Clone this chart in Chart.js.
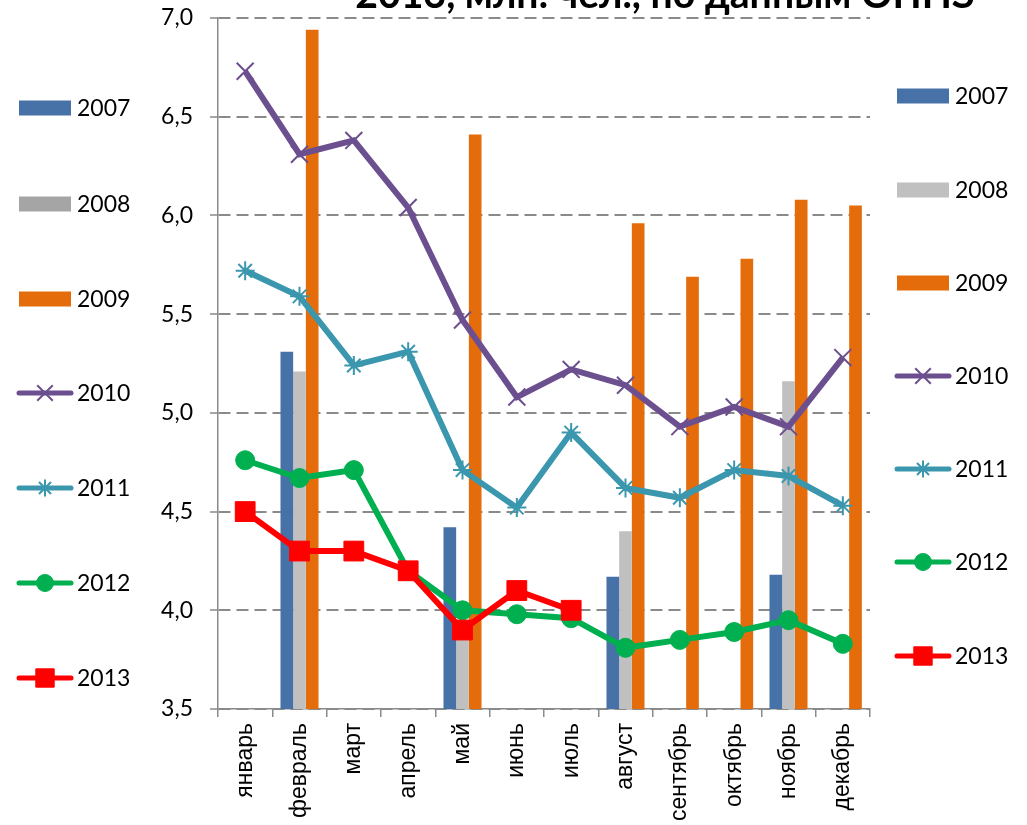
<!DOCTYPE html>
<html>
<head>
<meta charset="utf-8">
<script src="https://cdn.jsdelivr.net/npm/chart.js@4.4.1/dist/chart.umd.min.js"></script>
<style>
html,body{margin:0;padding:0;background:#fff;overflow:hidden}
canvas{display:block}
</style>
</head>
<body>
<canvas id="c" width="1027" height="825"></canvas>
<script>
const titleText = '2013, млн. чел., по данным ОПНЗ';
const months = ['январь','февраль','март','апрель','май','июнь','июль','август','сентябрь','октябрь','ноябрь','декабрь'];
const seriesNames = ['2007','2008','2009','2010','2011','2012','2013'];
const v2007 = [null,5.31,null,null,4.42,null,null,4.17,null,null,4.18,null];
const v2008 = [null,5.21,null,null,3.92,null,null,4.40,null,null,5.16,null];
const v2009 = [null,6.94,null,null,6.41,null,null,5.96,5.69,5.78,6.08,6.05];
const v2010 = [6.73,6.31,6.38,6.04,5.47,5.08,5.22,5.14,4.93,5.03,4.93,5.28];
const v2011 = [5.72,5.59,5.24,5.31,4.71,4.52,4.90,4.62,4.57,4.71,4.68,4.53];
const v2012 = [4.76,4.67,4.71,4.20,4.00,3.98,3.96,3.81,3.85,3.89,3.95,3.83];
const v2013 = [4.50,4.30,4.30,4.20,3.90,4.10,4.00,null,null,null,null,null];
const yMin = 3.5, yMax = 7.0, yStep = 0.5;

const LEGEND_FONT = '23px Lato';
const AXIS_GRAY = '#8a8a8a';

const titlePlugin = {
  id: 'cutTitle',
  afterDraw(chart) {
    const ctx = chart.ctx;
    ctx.save();
    let fs = 36;
    ctx.font = 'bold ' + fs + 'px Lato';
    const w = ctx.measureText(titleText).width;
    fs = fs * 620 / w;
    ctx.font = 'bold ' + fs.toFixed(1) + 'px Lato';
    ctx.fillStyle = '#000';
    ctx.textAlign = 'center';
    ctx.textBaseline = 'alphabetic';
    ctx.fillText(titleText, 665, 8);
    ctx.restore();
  }
};

const legendPlugin = {
  id: 'twinLegends',
  afterDraw(chart) {
    const ctx = chart.ctx;
    const sides = [
      {x: 17, textX: 77, ys: [108,204,299,393,488,583,678], left: true},
      {x: 895, textX: 955, ys: [96,190,283,376,469,562,656], left: false}
    ];
    sides.forEach(side => {
      chart.data.datasets.forEach((ds, i) => {
        const y = side.ys[i];
        ctx.save();
        if (ds.type === 'bar') {
          ctx.fillStyle = (side.left && ds.leftLegendColor) ? ds.leftLegendColor : ds.backgroundColor;
          ctx.fillRect(side.x + 2, y - 7.5, 52, 15);
        } else {
          ctx.strokeStyle = ds.borderColor;
          ctx.lineWidth = 5;
          ctx.lineCap = 'round';
          ctx.beginPath();
          ctx.moveTo(side.x + 2, y);
          ctx.lineTo(side.x + 54, y);
          ctx.stroke();
          ctx.fillStyle = ds.pointBackgroundColor;
          ctx.strokeStyle = ds.pointBorderColor;
          ctx.lineWidth = ds.pointBorderWidth;
          ctx.lineCap = 'butt';
          Chart.helpers.drawPoint(ctx, {
            pointStyle: ds.pointStyle,
            radius: ds.legendRadius,
            rotation: 0,
            borderWidth: ds.pointBorderWidth
          }, side.x + 28, y);
        }
        ctx.fillStyle = '#000';
        ctx.font = LEGEND_FONT;
        ctx.textAlign = 'left';
        ctx.textBaseline = 'middle';
        ctx.fillText(seriesNames[i], side.textX, y + 1);
        ctx.restore();
      });
    });
  }
};

function make() {
  new Chart(document.getElementById('c'), {
    type: 'bar',
    data: {
      labels: months,
      datasets: [
        {type:'bar', label:seriesNames[0], data:v2007, backgroundColor:'#4672A8', order:5},
        {type:'bar', label:seriesNames[1], data:v2008, backgroundColor:'#C0C0C0', leftLegendColor:'#A5A5A5', order:5},
        {type:'bar', label:seriesNames[2], data:v2009, backgroundColor:'#E46C0A', order:5},
        {type:'line', label:seriesNames[3], data:v2010, borderColor:'#6C4F8F', borderWidth:6, tension:0,
          pointStyle:'crossRot', pointRadius:12, legendRadius:11, pointBorderWidth:2,
          pointBorderColor:'#6C4F8F', pointBackgroundColor:'#6C4F8F', order:4},
        {type:'line', label:seriesNames[4], data:v2011, borderColor:'#3B97AE', borderWidth:6, tension:0,
          pointStyle:'star', pointRadius:9.5, legendRadius:8.5, pointBorderWidth:2,
          pointBorderColor:'#3B97AE', pointBackgroundColor:'#3B97AE', order:3},
        {type:'line', label:seriesNames[5], data:v2012, borderColor:'#00B050', borderWidth:6, tension:0,
          pointStyle:'circle', pointRadius:9.5, legendRadius:8.5, pointBorderWidth:1,
          pointBorderColor:'#00B050', pointBackgroundColor:'#00B050', order:2},
        {type:'line', label:seriesNames[6], data:v2013, borderColor:'#FF0000', borderWidth:6, tension:0,
          pointStyle:'rect', pointRadius:14, legendRadius:13, pointBorderWidth:1,
          pointBorderColor:'#FF0000', pointBackgroundColor:'#FF0000', order:1}
      ]
    },
    options: {
      responsive: false,
      animation: false,
      devicePixelRatio: 1,
      layout: {padding: {left: 0, right: 157, top: 18, bottom: 0}},
      datasets: {bar: {barPercentage: 1.0, categoryPercentage: 0.7}},
      plugins: {legend: {display: false}, tooltip: {enabled: false}, title: {display: false}},
      scales: {
        x: {
          offset: true,
          grid: {display: true, offset: true, drawOnChartArea: false, drawTicks: true, tickLength: 8,
                 color: AXIS_GRAY, tickColor: AXIS_GRAY, lineWidth: 1.5},
          border: {display: true, color: AXIS_GRAY, width: 1.5},
          ticks: {maxRotation: 90, minRotation: 90, autoSkip: false, padding: 6, color: '#000',
                  font: {family: '"Liberation Sans", Arial, sans-serif', size: 23}},
          afterFit(s) { s.height = 116; s.paddingLeft = 0; s.paddingRight = 0; }
        },
        y: {
          min: yMin, max: yMax,
          ticks: {stepSize: yStep, padding: 17, color: '#000', font: {family: 'Lato', size: 23},
                  callback: v => Number(v).toFixed(1).replace('.', ',')},
          grid: {color: AXIS_GRAY, lineWidth: 2, tickLength: 8, tickColor: AXIS_GRAY, tickBorderDash: [], tickWidth: 1.5, drawTicks: true},
          border: {display: true, color: AXIS_GRAY, width: 1.5, dash: [12, 6]},
          afterFit(s) { s.width = 218; s.paddingTop = 0; s.paddingBottom = 0; }
        }
      }
    },
    plugins: [titlePlugin, legendPlugin]
  });
}

if (document.fonts && document.fonts.load) {
  Promise.all([
    document.fonts.load('23px Lato'),
    document.fonts.load('bold 34px Lato'),
    document.fonts.load('23px "Liberation Sans"')
  ]).then(make, make);
} else {
  make();
}
</script>
</body>
</html>
